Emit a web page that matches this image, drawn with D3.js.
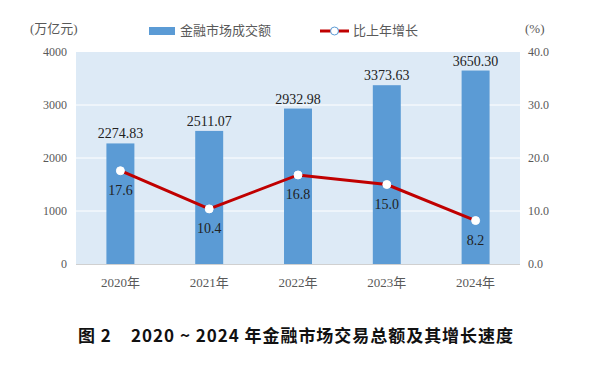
<!DOCTYPE html>
<html><head><meta charset="utf-8">
<script src="https://cdn.jsdelivr.net/npm/d3@7"></script>
<style>body{margin:0;background:#fff}svg{display:block}</style>
</head><body>
<svg id="c" width="600" height="369"></svg>
<script>
const categories = ["2020年","2021年","2022年","2023年","2024年"];
const volume = [2274.83, 2511.07, 2932.98, 3373.63, 3650.30];
const growth = [17.6, 10.4, 16.8, 15.0, 8.2];
const leftTicks = [0, 1000, 2000, 3000, 4000];
const rightTicks = [0, 10, 20, 30, 40];

const svg = d3.select("#c");
const L = 76, R = 520, T = 52, B = 264;
const serif = "'Liberation Serif','Times New Roman','Noto Sans CJK SC',serif";
const grey = "#595959";

const x = d3.scaleBand().domain(categories).range([L, R]).padding(0);
const yL = d3.scaleLinear().domain([0, 4000]).range([B, T]);
const yR = d3.scaleLinear().domain([0, 40]).range([B, T]);
const bw = x.bandwidth() * 0.315;
const cx = d => x(d) + x.bandwidth() / 2;

svg.append("rect").attr("x", L).attr("y", T).attr("width", R - L).attr("height", B - T).attr("fill", "#ddeaf6");

svg.append("g").selectAll("line").data(leftTicks.slice(1, -1)).join("line")
  .attr("x1", L).attr("x2", R).attr("y1", d => yL(d)).attr("y2", d => yL(d))
  .attr("stroke", "#fff").attr("stroke-width", 1);

svg.append("g").selectAll("rect").data(volume).join("rect")
  .attr("x", (d, i) => cx(categories[i]) - bw / 2).attr("width", bw)
  .attr("y", d => yL(d)).attr("height", d => B - yL(d)).attr("fill", "#5b9bd5");

svg.append("line").attr("x1", L).attr("x2", R).attr("y1", B + 0.5).attr("y2", B + 0.5).attr("stroke", "#d0d0d0");

// left axis
const gl = svg.append("g").attr("transform", `translate(${L},0)`)
  .call(d3.axisLeft(yL).tickValues(leftTicks).tickSize(0).tickPadding(9).tickFormat(d3.format("d")));
gl.select(".domain").remove();
gl.selectAll("text").attr("font-family", serif).attr("font-size", 12).attr("fill", grey);

const gr = svg.append("g").attr("transform", `translate(${R},0)`)
  .call(d3.axisRight(yR).tickValues(rightTicks).tickSize(0).tickPadding(8).tickFormat(d3.format(".1f")));
gr.select(".domain").remove();
gr.selectAll("text").attr("font-family", serif).attr("font-size", 12).attr("fill", grey);

const gx = svg.append("g").attr("transform", `translate(0,${B})`)
  .call(d3.axisBottom(x).tickSize(0).tickPadding(14));
gx.select(".domain").remove();
gx.selectAll("text").attr("font-family", serif).attr("font-size", 13).attr("fill", grey);

// bar labels
svg.append("g").selectAll("text").data(volume).join("text")
  .attr("x", (d, i) => cx(categories[i])).attr("y", d => yL(d) - 5)
  .attr("text-anchor", "middle").attr("font-family", serif).attr("font-size", 14).attr("fill", "#222")
  .text(d => d3.format(".2f")(d));

// line
const line = d3.line().x((d, i) => cx(categories[i])).y(d => yR(d));
svg.append("path").datum(growth).attr("d", line).attr("fill", "none").attr("stroke", "#c00000").attr("stroke-width", 3);
svg.append("g").selectAll("circle").data(growth).join("circle")
  .attr("cx", (d, i) => cx(categories[i])).attr("cy", d => yR(d)).attr("r", 4)
  .attr("fill", "#fff").attr("stroke", "#fff").attr("stroke-width", 1);
svg.append("g").selectAll("text").data(growth).join("text")
  .attr("x", (d, i) => cx(categories[i])).attr("y", d => yR(d) + 24)
  .attr("text-anchor", "middle").attr("font-family", serif).attr("font-size", 14).attr("fill", "#222")
  .text(d => d3.format(".1f")(d));

// axis titles
svg.append("text").attr("x", 30).attr("y", 33).attr("font-family", serif).attr("font-size", 13).attr("fill", grey).text("(万亿元)");
svg.append("text").attr("x", 525).attr("y", 33).attr("font-family", serif).attr("font-size", 13).attr("fill", grey).text("(%)");

// legend
svg.append("rect").attr("x", 149).attr("y", 27).attr("width", 26).attr("height", 8).attr("fill", "#5b9bd5");
svg.append("text").attr("x", 180).attr("y", 35).attr("font-family", serif).attr("font-size", 13).attr("fill", grey).text("金融市场成交额");
svg.append("line").attr("x1", 320).attr("x2", 349).attr("y1", 31).attr("y2", 31).attr("stroke", "#c00000").attr("stroke-width", 3);
svg.append("circle").attr("cx", 334.5).attr("cy", 31).attr("r", 4).attr("fill", "#fff").attr("stroke", "#5b9bd5").attr("stroke-width", 1);
svg.append("text").attr("x", 353).attr("y", 35).attr("font-family", serif).attr("font-size", 13).attr("fill", grey).text("比上年增长");

// title
svg.append("text").attr("x", 78).attr("y", 342)
  .attr("font-family", "'Noto Sans CJK SC','Noto Sans',sans-serif").attr("font-size", 17).attr("font-weight", "bold").attr("fill", "#111")
  .attr("textLength", 435).attr("lengthAdjust", "spacing")
  .attr("xml:space", "preserve")
  .text("图 2\u00a0\u00a0\u00a0\u00a02020 ~ 2024 年金融市场交易总额及其增长速度");
</script>
</body></html>
